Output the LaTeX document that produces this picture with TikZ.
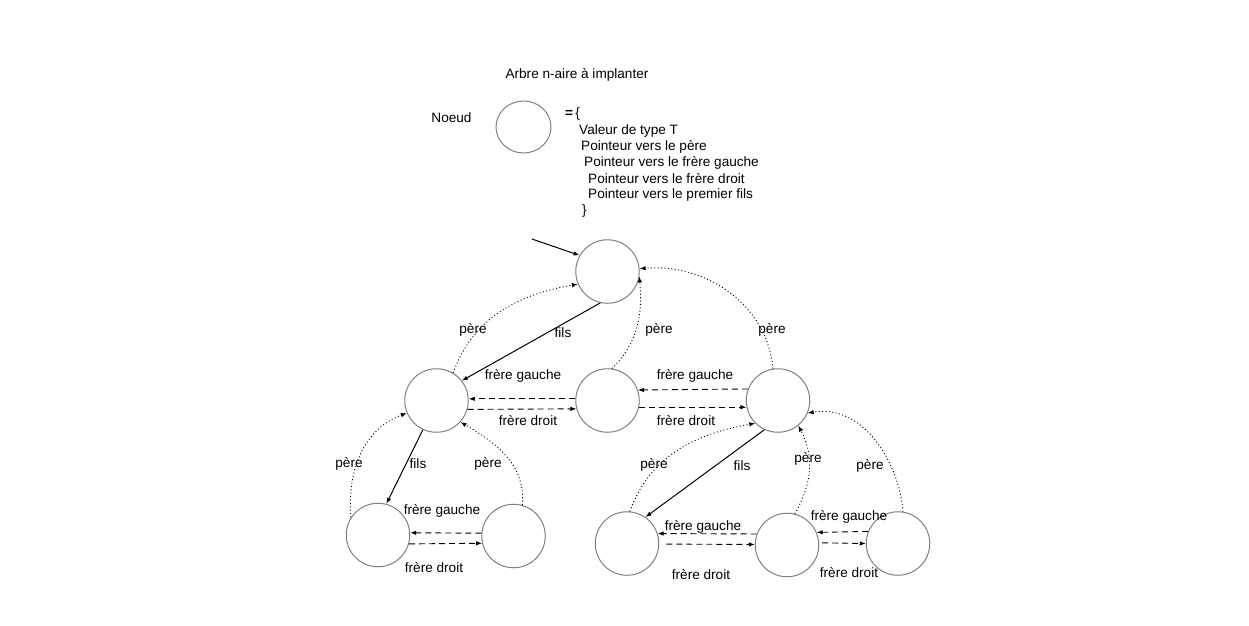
\documentclass[tikz,border=0pt]{standalone}
\usepackage{fontspec}
\setmainfont{Liberation Sans}
\usetikzlibrary{arrows.meta,shapes.geometric}
\begin{document}
\begin{tikzpicture}[
    x=1pt,
    y=-1pt,
    >={Latex[length=6pt,width=4.5pt]},
    font=\fontsize{13.6}{16}\selectfont,
    noeud/.style={circle,draw=black!50,line width=1pt,minimum size=63.5pt,inner sep=0pt},
    fils/.style={->,line width=1pt},
    pere/.style={->,line width=0.9pt,dash pattern=on 1pt off 2.4pt},
    frere/.style={->,line width=0.9pt,dash pattern=on 6pt off 4pt},
    champ/.style={anchor=west,inner sep=0pt}
]
    \useasboundingbox (0,0) rectangle (1249,625);

    % legende
    \node (titre) at (577,75) {Arbre n-aire à implanter};
    \node (noeud) at (451.5,118) {Noeud};
    \node[ellipse,draw=black!50,line width=1pt,minimum width=55pt,minimum height=52pt] (modele) at (523.5,127) {};
    \node[champ] (egal) at (565,114) {\textbf{=}\,\{};
    \node[champ] (c1) at (579,131) {Valeur de type T};
    \node[champ] (c2) at (581,147) {Pointeur vers le père};
    \node[champ] (c3) at (584,163) {Pointeur vers le frère gauche};
    \node[champ] (c4) at (588,179) {Pointeur vers le frère droit};
    \node[champ] (c5) at (588,195) {Pointeur vers le premier fils};
    \node[champ] (c6) at (582,211) {\}};

    % arbre
    \node[noeud] (racine) at (607.5,271.5) {};
    \node[noeud] (a) at (436.5,400.5) {};
    \node[noeud] (b) at (607.5,400.5) {};
    \node[noeud] (c) at (778,400.5) {};
    \node[noeud] (a1) at (378,535) {};
    \node[noeud] (a2) at (513.5,536) {};
    \node[noeud] (c1n) at (627,543.5) {};
    \node[noeud] (c2n) at (787,545) {};
    \node[noeud] (c3n) at (898,543.5) {};

    \coordinate (entree) at (532,239);
    \draw[fils] (entree) -- (racine.150);

    % premiers fils
    \draw[fils] (racine.257) -- (a.38);
    \draw[fils] (a.245) -- (a1.75);
    \draw[fils] (c.245) -- (c1n.55);

    % peres
    \draw[pere] (a.59) to[out=70,in=190] (racine.203);
    \draw[pere] (b.82) to[out=45,in=-85] (racine.-9);
    \draw[pere] (c.99) to[out=95,in=5] (racine.5);
    \draw[pere] (a1.147) to[out=95,in=200] (a.203);
    \draw[pere] (a2.74) to[out=85,in=-30] (a.-42);
    \draw[pere] (c1n.85) to[out=70,in=190] (c.225);
    \draw[pere] (c2n.76) to[out=60,in=-62] (c.-51);
    \draw[pere] (c3n.81) to[out=95,in=10] (c.-23);

    % freres
    \draw[frere] (b.177) -- (a.3);
    \draw[frere] (a.-16) -- (b.195);
    \draw[frere] (c.159) -- (b.19.5);
    \draw[frere] (b.-12) -- (c.192);
    \draw[frere] (a2.175) -- (a1.4);
    \draw[frere] (a1.-16) -- (a2.193);
    \draw[frere] (c2n.160) -- (c1n.18);
    \draw[frere,shorten <=7pt] (c1n.-1) -- (c2n.179);
    \draw[frere] (c3n.158) -- (c2n.23);
    \draw[frere,shorten <=3pt] (c2n.4) -- (c3n.180);

    % etiquettes
    \node (lfr) at (563,333) {fils};
    \node (lpa) at (473,330) {père};
    \node (lpb) at (659,330) {père};
    \node (lpc) at (772,330) {père};
    \node (lgab) at (523,376) {frère gauche};
    \node (ldab) at (528,421) {frère droit};
    \node (lgbc) at (695,376) {frère gauche};
    \node (ldbc) at (686,421) {frère droit};
    \node (lpa1) at (349,464) {père};
    \node (lfa) at (418,464) {fils};
    \node (lpa2) at (488,464) {père};
    \node (lga) at (442,511) {frère gauche};
    \node (lda) at (434,568) {frère droit};
    \node (lpc1) at (654,465) {père};
    \node (lfc) at (742,466) {fils};
    \node (lpc2) at (808,459) {père};
    \node (lpc3) at (870,466) {père};
    \node (lgc12) at (703,527) {frère gauche};
    \node (ldc12) at (701,575) {frère droit};
    \node (lgc23) at (849,517) {frère gauche};
    \node (ldc23) at (849,573) {frère droit};
\end{tikzpicture}
\end{document}
